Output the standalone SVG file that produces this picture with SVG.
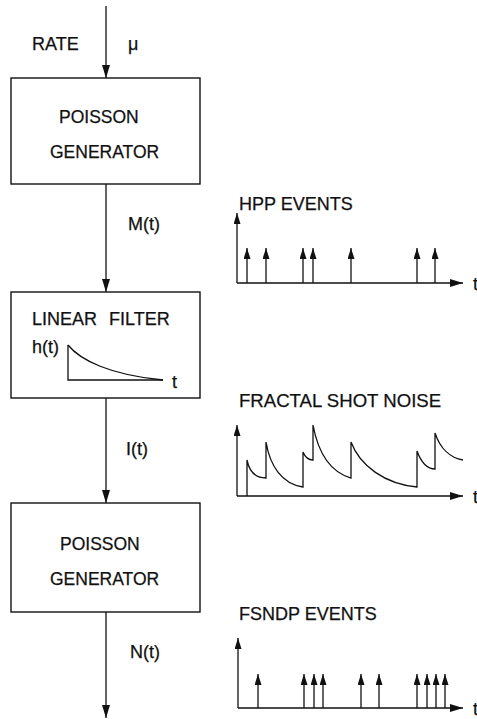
<svg xmlns="http://www.w3.org/2000/svg" width="477" height="719" viewBox="0 0 477 719">
<style>
.t{font-family:"Liberation Sans",Arial,sans-serif;font-size:18px;fill:#111;stroke:#111;stroke-width:0.25}
.b{font-size:17.5px}
.box{fill:#fff;stroke:#111;stroke-width:1.4}
.ln{fill:none;stroke:#111;stroke-width:1.3}
.sp{fill:none;stroke:#111;stroke-width:1.3}
</style>
<defs>
<marker id="ah" viewBox="0 0 13 8" refX="13" refY="4" markerWidth="13" markerHeight="8" markerUnits="userSpaceOnUse" orient="auto">
<path d="M0,0 L13,4 L0,8 z" fill="#111"/>
</marker>
<marker id="sh" viewBox="0 0 11 7" refX="11" refY="3.5" markerWidth="11" markerHeight="7" markerUnits="userSpaceOnUse" orient="auto">
<path d="M0,0 L11,3.5 L0,7 z" fill="#111"/>
</marker>
</defs>

<g id="connectors">
<line class="ln" x1="106" y1="6" x2="106" y2="78" marker-end="url(#ah)"/>
<line class="ln" x1="106" y1="184" x2="106" y2="292" marker-end="url(#ah)"/>
<line class="ln" x1="106" y1="398" x2="106" y2="503" marker-end="url(#ah)"/>
<line class="ln" x1="106" y1="612" x2="106" y2="718" marker-end="url(#ah)"/>
<text class="t" x="32" y="50">RATE</text>
<text class="t" x="128" y="50">μ</text>
<text class="t" x="128" y="230">M(t)</text>
<text class="t" x="126" y="455">I(t)</text>
<text class="t" x="130" y="658">N(t)</text>
</g>

<g id="poisson1">
<rect class="box" x="11" y="78" width="189" height="106"/>
<text class="t b" x="59" y="123">POISSON</text>
<text class="t b" x="50" y="158">GENERATOR</text>
</g>

<g id="filter">
<rect class="box" x="11" y="292" width="189" height="106"/>
<text class="t" y="325"><tspan x="32">LINEAR</tspan><tspan x="109">FILTER</tspan></text>
<text class="t" x="32" y="353">h(t)</text>
<path class="ln" d="M68,345 L68,380 L163,380"/>
<path class="ln" d="M68,345 C80,360 110,375 163,380"/>
<text class="t" x="172" y="388">t</text>
</g>

<g id="poisson2">
<rect class="box" x="11" y="503" width="189" height="109"/>
<text class="t b" x="60" y="550">POISSON</text>
<text class="t b" x="50" y="585">GENERATOR</text>
</g>

<g id="hpp">
<text class="t" x="239" y="210">HPP EVENTS</text>
<line class="ln" x1="237" y1="283" x2="237" y2="213" marker-end="url(#sh)"/>
<line class="ln" x1="237" y1="283" x2="463" y2="283" marker-end="url(#ah)"/>
<text class="t" x="473" y="290">t</text>
<g class="sp">
<line x1="247" y1="283" x2="247" y2="248" marker-end="url(#sh)"/>
<line x1="266" y1="283" x2="266" y2="248" marker-end="url(#sh)"/>
<line x1="303" y1="283" x2="303" y2="248" marker-end="url(#sh)"/>
<line x1="313" y1="283" x2="313" y2="248" marker-end="url(#sh)"/>
<line x1="351" y1="283" x2="351" y2="248" marker-end="url(#sh)"/>
<line x1="417" y1="283" x2="417" y2="248" marker-end="url(#sh)"/>
<line x1="435" y1="283" x2="435" y2="248" marker-end="url(#sh)"/>
</g>
</g>

<g id="fsn">
<text class="t" x="239" y="407" style="font-size:18.6px">FRACTAL SHOT NOISE</text>
<line class="ln" x1="237" y1="496" x2="237" y2="425" marker-end="url(#sh)"/>
<line class="ln" x1="237" y1="496" x2="463" y2="496" marker-end="url(#ah)"/>
<text class="t" x="473" y="503">t</text>
<path class="ln" d="M247,496 L247,460 C249,470 254,478 266,478 L266,442 C270,466 282,484 303,487 L303,452 C305,457 308,460 313,460 L313,425 C318,452 330,472 351,478 L351,442 C360,466 385,484 417,487 L417,451 C421,462 427,469 435,469 L435,433 C440,448 450,458 463,460"/>
</g>

<g id="fsndp">
<text class="t" x="239" y="620">FSNDP EVENTS</text>
<line class="ln" x1="238" y1="708" x2="238" y2="638" marker-end="url(#sh)"/>
<line class="ln" x1="238" y1="708" x2="463" y2="708" marker-end="url(#ah)"/>
<text class="t" x="473" y="715">t</text>
<g class="sp">
<line x1="258" y1="708" x2="258" y2="674" marker-end="url(#sh)"/>
<line x1="304" y1="708" x2="304" y2="674" marker-end="url(#sh)"/>
<line x1="314" y1="708" x2="314" y2="674" marker-end="url(#sh)"/>
<line x1="323" y1="708" x2="323" y2="674" marker-end="url(#sh)"/>
<line x1="361" y1="708" x2="361" y2="674" marker-end="url(#sh)"/>
<line x1="379" y1="708" x2="379" y2="674" marker-end="url(#sh)"/>
<line x1="417" y1="708" x2="417" y2="674" marker-end="url(#sh)"/>
<line x1="427" y1="708" x2="427" y2="674" marker-end="url(#sh)"/>
<line x1="436" y1="708" x2="436" y2="674" marker-end="url(#sh)"/>
<line x1="445" y1="708" x2="445" y2="674" marker-end="url(#sh)"/>
</g>
</g>
</svg>
